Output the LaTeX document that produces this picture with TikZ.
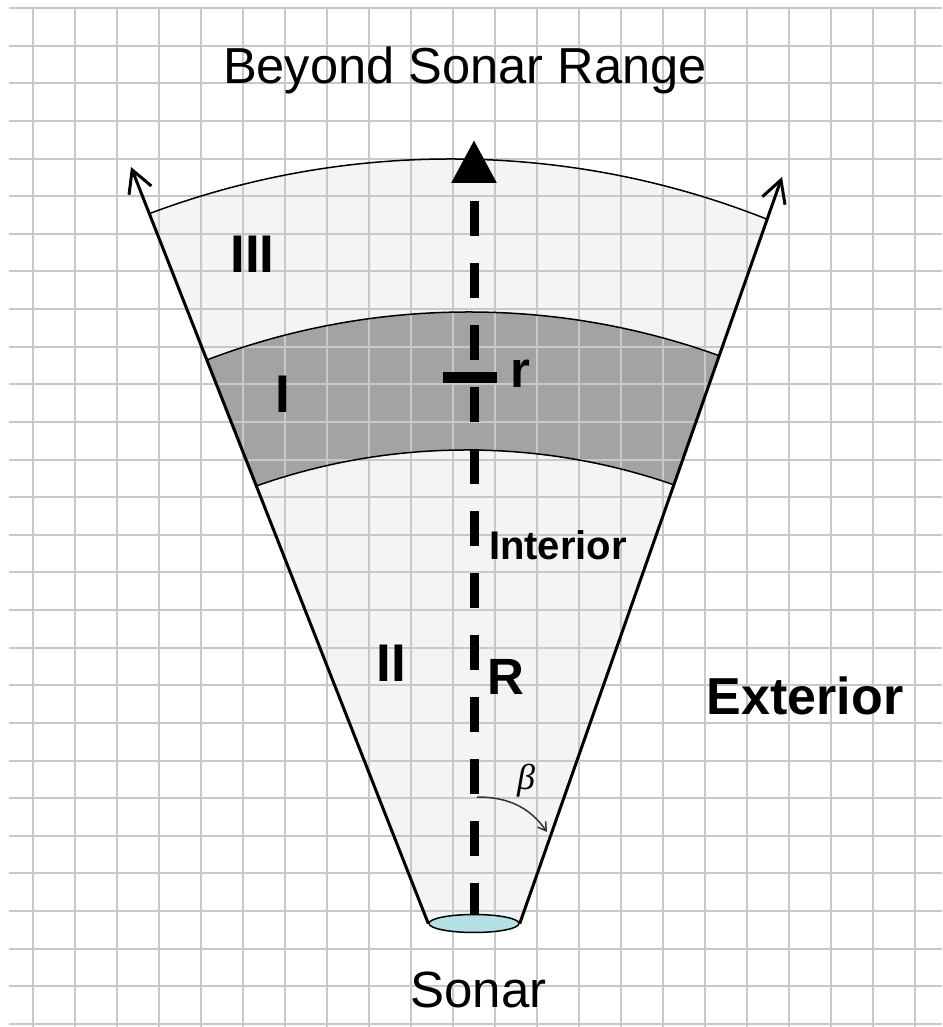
\documentclass[tikz,border=0pt]{standalone}
\usepackage{fontspec}
\setmainfont{Liberation Sans}
\newfontfamily\betafont{Liberation Serif}
\usepackage{tikz}
\usetikzlibrary{arrows.meta,shapes.geometric,calc}
\definecolor{GridGray}{RGB}{200,200,200}
\definecolor{FanFill}{RGB}{244,244,244}
\definecolor{BandFill}{RGB}{163,163,163}
\definecolor{SonarBlue}{RGB}{180,224,230}
\tikzset{
  gridline/.style={draw=GridGray,line width=2pt},
  rim/.style={draw=black,line width=1.5pt},
  bound/.style={-{Straight Barb[length=22pt,width=24pt]},line width=3pt},
  beam/.style={-{Triangle[length=43pt,width=43pt]},line width=9pt,dash pattern=on 35pt off 27pt,dash phase=4pt},
  rmark/.style={line width=11pt},
  sweep/.style={-{Straight Barb[length=8pt,width=10pt]},line width=1.5pt,draw=black!80},
  sonarbox/.style={ellipse,draw,line width=1.5pt,fill=SonarBlue,minimum width=90pt,minimum height=18pt,inner sep=0pt},
  zone/.style={font=\fontsize{53}{60}\selectfont\bfseries,inner sep=0pt,anchor=base},
  caption/.style={font=\fontsize{51}{60}\selectfont,inner sep=0pt,anchor=base}
}
\begin{document}
\begin{tikzpicture}[x=1pt,y=1pt]
\useasboundingbox (0,0) rectangle (942,1027);
\fill[white] (0,0) rectangle (942,1027);
\coordinate (apex) at (474,103.5);
\coordinate (ltip) at (131,860);
\coordinate (rtip) at (782,850);
% fan and range bands
\begin{scope}
\clip ([xshift=-45pt]apex) -- ($([xshift=-45pt]apex)!1.2!(ltip)$) -- ($([xshift=45pt]apex)!1.2!(rtip)$) -- ([xshift=45pt]apex) -- cycle;
\fill[FanFill] (451,12) circle[radius=856];
\fill[BandFill,even odd rule] (468.7,-21) circle[radius=736] (466.7,-53) circle[radius=630];
\end{scope}
% squared paper
\foreach \i in {0,...,21} \draw[gridline] ({33+42*\i},0) -- ({33+42*\i},1019);
\foreach \j in {0,...,27} \draw[gridline] (9,{1019-37.63*\j}) -- (942,{1019-37.63*\j});
\begin{scope}
\clip ([xshift=-45pt]apex) -- ($([xshift=-45pt]apex)!1.2!(ltip)$) -- ($([xshift=45pt]apex)!1.2!(rtip)$) -- ([xshift=45pt]apex) -- cycle;
\draw[rim] (451,12) circle[radius=856];
\draw[rim] (468.7,-21) circle[radius=736];
\draw[rim] (466.7,-53) circle[radius=630];
\end{scope}
\node[sonarbox] (sonar) at (apex) {};
\coordinate (top) at (474,887);
\draw[bound] (sonar.west) -- (ltip);
\draw[bound] (sonar.east) -- (rtip);
\draw[beam] (sonar.north) -- (top);
\coordinate (rpos) at (470,649);
\draw[rmark] ([xshift=-27pt]rpos) -- ([xshift=27pt]rpos);
\coordinate (bstart) at (477,230);
\coordinate (bstop) at (547,195);
\draw[sweep] (bstart) to[out=0,in=125] (bstop);
% labels
\node[caption,font=\fontsize{50.6}{60}\selectfont] (range) at (465,943) {Beyond Sonar Range};
\node[zone] (zthree) at (252.5,754) {III};
\node[zone] (zone1) at (282.5,614) {I};
\node[zone] (ztwo) at (391,345) {II};
\node[zone,font=\fontsize{51}{60}\selectfont\bfseries] (bigr) at (506,332) {R};
\node[zone,font=\fontsize{51}{60}\selectfont\bfseries] (smallr) at (520,639) {r};
\node[zone,font=\fontsize{40}{48}\selectfont\bfseries] (inside) at (558,467.7) {Interior};
\node[zone,font=\fontsize{52}{60}\selectfont\bfseries] (outside) at (805,312) {Exterior};
\node[caption] (sonarname) at (478.5,19) {Sonar};
\node[caption,font=\fontsize{36}{40}\selectfont\betafont\itshape] (beta) at (526,237) {β};
\end{tikzpicture}
\end{document}
